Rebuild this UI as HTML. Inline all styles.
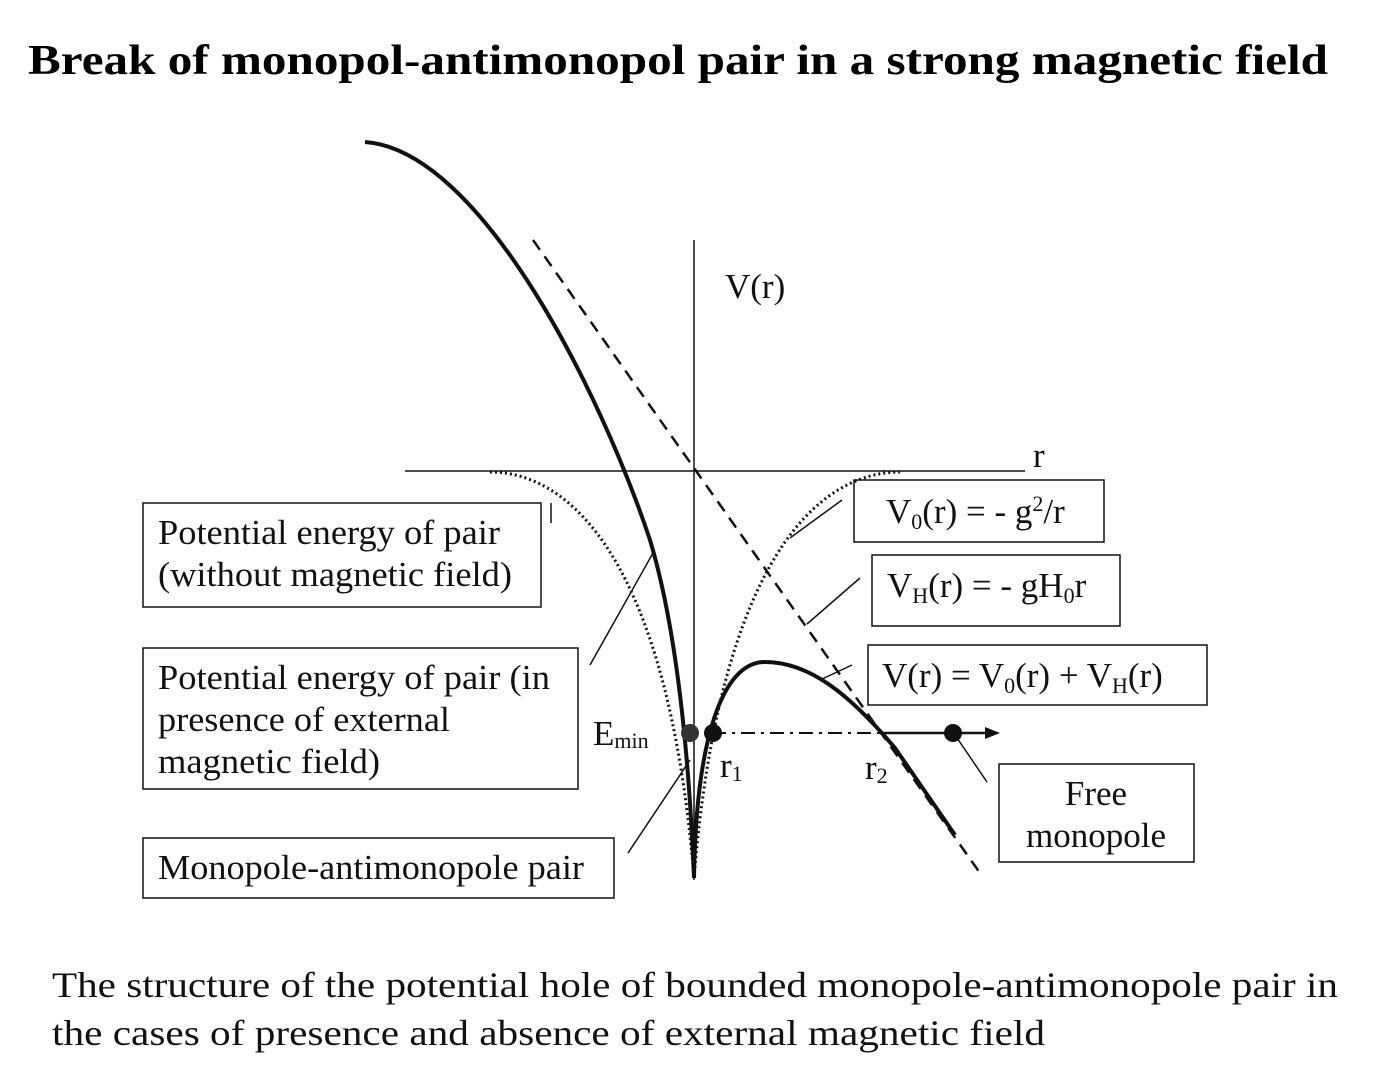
<!DOCTYPE html>
<html><head><meta charset="utf-8"><style>body{margin:0;background:#fff}svg{display:block}</style></head>
<body>
<svg width="1373" height="1080" viewBox="0 0 1373 1080" xmlns="http://www.w3.org/2000/svg" font-family="Liberation Serif, serif">
<text x="28" y="74" font-size="42" font-weight="bold" textLength="1300" lengthAdjust="spacingAndGlyphs">Break of monopol-antimonopol pair in a strong magnetic field</text>
<g stroke="#111" fill="none">
<line x1="694" y1="240" x2="694" y2="880" stroke-width="1.5"/>
<line x1="405" y1="471" x2="1025" y2="471" stroke-width="1.5"/>
<line x1="533" y1="240" x2="980" y2="873" stroke-width="2.5" stroke-dasharray="12,8"/>
<path d="M490,472 C570,472 668,560 694,878" stroke-width="3" stroke-dasharray="2,3"/>
<path d="M694,878 C720,560 818,472 900,472" stroke-width="3" stroke-dasharray="2,3"/>
<path d="M365,142 C480,150 600,390 650,540 C680,640 690,780 694,878" stroke-width="4"/>
<path d="M694,878 C696,740 722,662 765,662 C810,662 850,695 895,748 L955,835" stroke-width="4"/>
<line x1="712" y1="733" x2="880" y2="733" stroke-width="2" stroke-dasharray="14,6,3,6"/>
<line x1="880" y1="733" x2="990" y2="733" stroke-width="2.5"/>
<line x1="590" y1="665" x2="653" y2="553" stroke-width="1.5"/>
<line x1="628" y1="853" x2="690" y2="760" stroke-width="1.5"/>
<line x1="842" y1="500" x2="790" y2="538" stroke-width="1.5"/>
<line x1="860" y1="578" x2="807" y2="624" stroke-width="1.5"/>
<line x1="852" y1="665" x2="820" y2="680" stroke-width="1.5"/>
<line x1="955" y1="735" x2="987" y2="782" stroke-width="1.5"/>
<line x1="551" y1="503" x2="551" y2="523" stroke-width="1.5"/>
<rect x="143" y="503" width="398" height="104" stroke-width="1.5"/>
<rect x="143" y="648" width="435" height="141" stroke-width="1.5"/>
<rect x="143" y="838" width="471" height="60" stroke-width="1.5"/>
<rect x="854" y="480" width="250" height="62" stroke-width="1.5"/>
<rect x="872" y="555" width="248" height="71" stroke-width="1.5"/>
<rect x="868" y="645" width="339" height="60" stroke-width="1.5"/>
<rect x="999" y="764" width="195" height="98" stroke-width="1.5"/>
</g>
<polygon points="1000,733 985,727 985,739" fill="#111"/>
<circle cx="690" cy="733" r="9" fill="#333"/>
<circle cx="713" cy="733" r="9" fill="#111"/>
<circle cx="953" cy="733" r="9" fill="#111"/>
<g font-size="35" fill="#111">
<text x="725" y="298">V(r)</text>
<text x="1033" y="467">r</text>
<text x="158" y="544" textLength="342" lengthAdjust="spacingAndGlyphs">Potential energy of pair</text>
<text x="158" y="586" textLength="354" lengthAdjust="spacingAndGlyphs">(without magnetic field)</text>
<text x="158" y="689" textLength="392" lengthAdjust="spacingAndGlyphs">Potential energy of pair (in</text>
<text x="158" y="731" textLength="292" lengthAdjust="spacingAndGlyphs">presence of external</text>
<text x="158" y="773" textLength="222" lengthAdjust="spacingAndGlyphs">magnetic field)</text>
<text x="158" y="879" textLength="426" lengthAdjust="spacingAndGlyphs">Monopole-antimonopole pair</text>
<text x="886" y="523">V<tspan font-size="22" dy="6">0</tspan><tspan dy="-6">(r) = - g</tspan><tspan font-size="22" dy="-12">2</tspan><tspan dy="12">/r</tspan></text>
<text x="887" y="597">V<tspan font-size="22" dy="6">H</tspan><tspan dy="-6">(r) = - gH</tspan><tspan font-size="22" dy="6">0</tspan><tspan dy="-6">r</tspan></text>
<text x="882" y="687">V(r) = V<tspan font-size="22" dy="6">0</tspan><tspan dy="-6">(r) + V</tspan><tspan font-size="22" dy="6">H</tspan><tspan dy="-6">(r)</tspan></text>
<text x="1096" y="805" text-anchor="middle">Free</text>
<text x="1096" y="847" text-anchor="middle">monopole</text>
<text x="593" y="745">E<tspan font-size="22" dy="3">min</tspan></text>
<text x="720" y="777">r<tspan font-size="22" dy="4">1</tspan></text>
<text x="865" y="779">r<tspan font-size="22" dy="4">2</tspan></text>
</g>
<g font-size="36" fill="#111">
<text x="52" y="997" textLength="1286" lengthAdjust="spacingAndGlyphs">The structure of the potential hole of  bounded monopole-antimonopole pair in</text>
<text x="52" y="1045" textLength="993" lengthAdjust="spacingAndGlyphs">the cases of  presence and absence of external magnetic field</text>
</g>
</svg>
</body></html>
